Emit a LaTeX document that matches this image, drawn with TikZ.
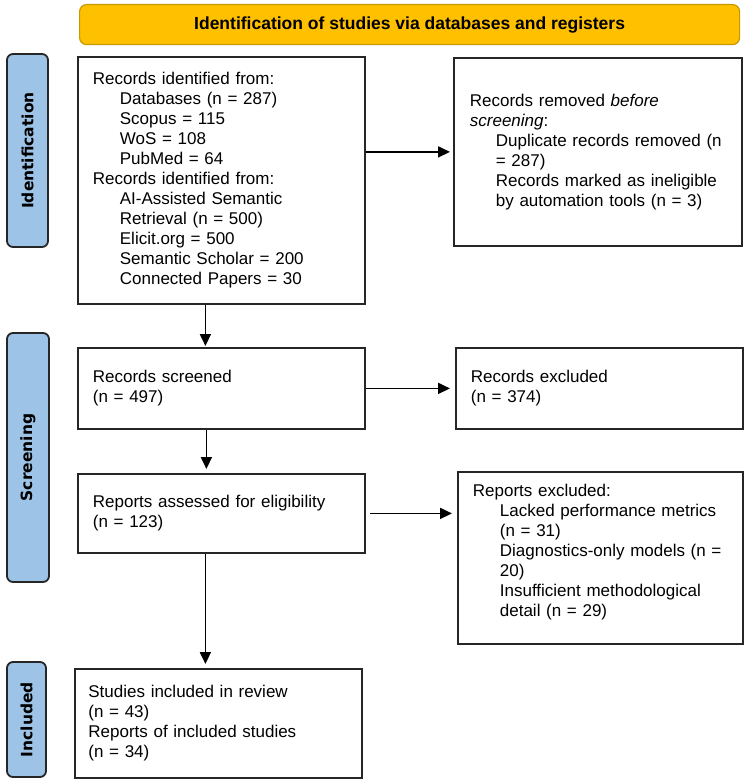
\documentclass[tikz,border=0pt]{standalone}
\usepackage{fontspec}
\setmainfont{Liberation Sans}
\newfontfamily\tabfont{DejaVu Sans}
\usetikzlibrary{arrows.meta,positioning}
\definecolor{prismablue}{HTML}{9DC3E6}
\definecolor{prismagold}{HTML}{FFC000}
\definecolor{prismaedge}{HTML}{C49A00}

\begin{document}
\begin{tikzpicture}[x=1pt, y=-1pt,
    recbox/.style={draw=black!85, line width=1.8pt, anchor=north west, align=left,
        inner xsep=15pt, inner ysep=0pt, font=\fontsize{17}{20}\selectfont},
    phasetab/.style={draw=black!85, fill=prismablue, line width=1.8pt, rounded corners=6pt,
        rotate=90, inner sep=0pt, font=\tabfont\bfseries\fontsize{15.5}{18}\selectfont},
    flow/.style={-{Triangle[length=12pt,width=11pt]}, line width=1.8pt}]
            \useasboundingbox(0,0)rectangle(749,781);
            % heading
            \node[draw=prismaedge, fill=prismagold, line width=1.2pt, rounded corners=7pt, anchor=north west,
                minimum width=660pt, minimum height=40pt, font=\bfseries\fontsize{17.5}{20}\selectfont]
                (head) at (79,4) {Identification of studies via databases and registers};
            % phase tabs
            \node[phasetab, minimum width=193pt, minimum height=41pt](tabid) at (27.5,150.5) {Identification};
            \node[phasetab, minimum width=249pt, minimum height=42pt](tabscr) at (28,457.5) {Screening};
            \node[phasetab, minimum width=115pt, minimum height=39pt](tabinc) at (26.5,719.5) {Included};
            % identification
            \node[recbox, minimum width=287pt, minimum height=247pt, text width=257pt](ident) at (77,56)
                {Records identified from:\\
                 \hspace*{27pt}Databases (n = 287)\\
                 \hspace*{27pt}Scopus = 115\\
                 \hspace*{27pt}WoS = 108\\
                 \hspace*{27pt}PubMed = 64\\
                 Records identified from:\\
                 \hspace*{27pt}AI-Assisted Semantic\\
                 \hspace*{27pt}Retrieval (n = 500)\\
                 \hspace*{27pt}Elicit.org = 500\\
                 \hspace*{27pt}Semantic Scholar = 200\\
                 \hspace*{27pt}Connected Papers = 30};
            \node[recbox, inner xsep=16pt, minimum width=288pt, minimum height=188pt, text width=256pt](removed) at (453,57)
                {Records removed \textit{before}\\
                 \textit{screening}:\\
                 \hspace*{26pt}Duplicate records removed (n\\
                 \hspace*{26pt}= 287)\\
                 \hspace*{26pt}Records marked as ineligible\\
                 \hspace*{26pt}by automation tools (n = 3)};
            % screening
            \node[recbox, minimum width=287pt, minimum height=81pt, text width=257pt](screened) at (77,347)
                {Records screened\\
                 (n = 497)};
            \node[recbox, minimum width=287pt, minimum height=81pt, text width=257pt](excluded) at (455,347)
                {Records excluded\\
                 (n = 374)};
            \node[recbox, minimum width=287pt, minimum height=79pt, text width=257pt](assessed) at (77,473)
                {Reports assessed for eligibility\\
                 (n = 123)};
            \node[recbox, minimum width=285pt, minimum height=172pt, text width=255pt](repexcl) at (457,471)
                {Reports excluded:\\
                 \hspace*{27pt}Lacked performance metrics\\
                 \hspace*{27pt}(n = 31)\\
                 \hspace*{27pt}Diagnostics-only models (n =\\
                 \hspace*{27pt}20)\\
                 \hspace*{27pt}Insufficient methodological\\
                 \hspace*{27pt}detail (n = 29)\\[-4pt]\mbox{}};
            % included
            \node[recbox, inner xsep=13.5pt, minimum width=287pt, minimum height=109pt, text width=260pt](incl) at (74,668)
                {Studies included in review\\
                 (n = 43)\\
                 Reports of included studies\\
                 (n = 34)};
            % arrows
            \path[draw, flow, shorten >=3pt](ident.east |- removed.west)to(removed.west);
            \path[draw, flow, shorten >=1pt]([xshift=-16pt]ident.south)to([xshift=-16pt]screened.north);
            \path[draw, flow, shorten >=5pt](screened.east)to(screened.east -| excluded.west);
            \path[draw, flow, shorten >=4pt]([xshift=-15pt]screened.south)to([xshift=-15pt]assessed.north);
            \path[draw, flow, shorten <=4pt, shorten >=5pt](assessed.east)to(assessed.east -| repexcl.west);
            \path[draw, flow, shorten >=4pt]([xshift=-16pt]assessed.south)to([xshift=-16pt]assessed.south |- incl.north);
        \end{tikzpicture}
\end{document}
